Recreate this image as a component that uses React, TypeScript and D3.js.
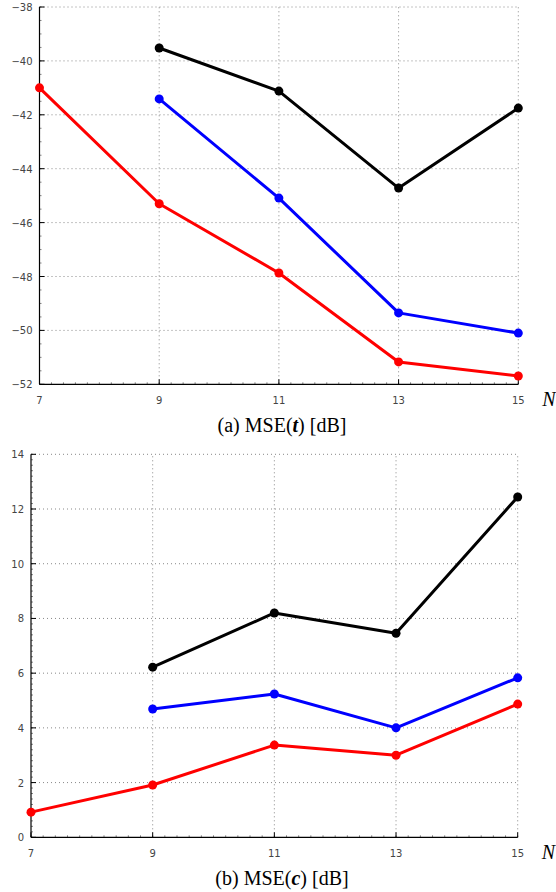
import React from "react";
import * as d3 from "d3";

const nValues = [7, 9, 11, 13, 15];

// MSE(t) [dB]
const tRed = [-41.0, -45.3, -47.87, -51.17, -51.69];
const tBlue = [null, -41.41, -45.09, -49.35, -50.1];
const tBlack = [null, -39.52, -41.12, -44.72, -41.75];

// MSE(c) [dB]
const cRed = [0.92, 1.91, 3.37, 3.0, 4.87];
const cBlue = [null, 4.69, 5.24, 4.0, 5.83];
const cBlack = [null, 6.22, 8.2, 7.46, 12.44];

const topTicks = [-52, -50, -48, -46, -44, -42, -40, -38];
const bottomTicks = [0, 2, 4, 6, 8, 10, 12, 14];

const colors = ["#ff0000", "#0000ff", "#000000"];

const fmt = (v: number) => (v < 0 ? "\u2212" + Math.abs(v) : String(v));

const Panel = ({ x0, x1, y0, y1, yDomain, yTicks, ySub, series, caption, captionVar, captionY }: any) => {
  const x = d3.scaleLinear().domain([7, 15]).range([x0, x1]);
  const y = d3.scaleLinear().domain(yDomain).range([y0, y1]);
  const line = d3
    .line<any>()
    .defined(d => d[1] != null)
    .x(d => x(d[0]))
    .y(d => y(d[1]));

  const xMinor = d3.range(7, 15.001, 0.2);
  const yMinor = d3.range(yDomain[0], yDomain[1] + 0.001, ySub);

  return (
    <g>
      {/* grid */}
      {yTicks.slice(1).map((t: number) => (
        <line key={"gy" + t} x1={x0} x2={x1} y1={y(t)} y2={y(t)}
          stroke="#888" strokeWidth={1} strokeDasharray="1,3" />
      ))}
      {nValues.slice(1).map(n => (
        <line key={"gx" + n} x1={x(n)} x2={x(n)} y1={y0} y2={y1}
          stroke="#888" strokeWidth={1} strokeDasharray="1,3" />
      ))}
      {/* minor ticks */}
      {xMinor.map((m, i) => (
        <line key={"mx" + i} x1={x(m)} x2={x(m)} y1={y0} y2={y0 - 2} stroke="#333" strokeWidth={0.6} />
      ))}
      {yMinor.map((m, i) => (
        <line key={"my" + i} x1={x0} x2={x0 + 2} y1={y(m)} y2={y(m)} stroke="#333" strokeWidth={0.6} />
      ))}
      {/* major ticks */}
      {nValues.map(n => (
        <line key={"tx" + n} x1={x(n)} x2={x(n)} y1={y0} y2={y0 - 5} stroke="#000" strokeWidth={1} />
      ))}
      {yTicks.map((t: number) => (
        <line key={"ty" + t} x1={x0} x2={x0 + 5} y1={y(t)} y2={y(t)} stroke="#000" strokeWidth={1} />
      ))}
      {/* axes */}
      <line x1={x0} x2={x1} y1={y0} y2={y0} stroke="#000" strokeWidth={1.2} />
      <line x1={x0} x2={x0} y1={y0} y2={y1} stroke="#000" strokeWidth={1.2} />
      {/* tick labels */}
      {nValues.map(n => (
        <text key={"lx" + n} x={x(n)} y={y0 + 20} textAnchor="middle"
          fontFamily="DejaVu Sans" fontSize={10} fill="#444">{n}</text>
      ))}
      {yTicks.map((t: number) => (
        <text key={"ly" + t} x={x0 - 7} y={y(t) + 4} textAnchor="end"
          fontFamily="DejaVu Sans" fontSize={10} fill="#444">{fmt(t)}</text>
      ))}
      {/* series */}
      {series.map((s: (number | null)[], i: number) => {
        const pts = nValues.map((n, j) => [n, s[j]]);
        return (
          <g key={"s" + i}>
            <path d={line(pts) || ""} fill="none" stroke={colors[i]} strokeWidth={3} strokeLinejoin="round" />
            {pts.filter(p => p[1] != null).map((p: any, j) => (
              <circle key={j} cx={x(p[0])} cy={y(p[1])} r={4.5} fill={colors[i]} />
            ))}
          </g>
        );
      })}
      <text x={x1 + 24} y={y0 + 22} fontFamily="Liberation Serif" fontStyle="italic" fontSize={20}>N</text>
      <text x={282} y={captionY} textAnchor="middle" fontFamily="Liberation Serif" fontSize={20}>
        {caption}<tspan fontWeight="bold" fontStyle="italic">{captionVar}</tspan>) [dB]
      </text>
    </g>
  );
};

export default function App() {
  return (
    <svg width={556} height={892} style={{ position: "absolute", left: 0, top: 0 }}>
      <rect width={556} height={892} fill="#fff" />
      <Panel x0={39.5} x1={518.3} y0={384.3} y1={7} yDomain={[-52, -38]} yTicks={topTicks} ySub={0.5}
        series={[tRed, tBlue, tBlack]} caption="(a) MSE(" captionVar="t" captionY={431.5} />
      <Panel x0={31} x1={517.7} y0={837.3} y1={454.3} yDomain={[0, 14]} yTicks={bottomTicks} ySub={0.2}
        series={[cRed, cBlue, cBlack]} caption="(b) MSE(" captionVar="c" captionY={884.5} />
    </svg>
  );
}
